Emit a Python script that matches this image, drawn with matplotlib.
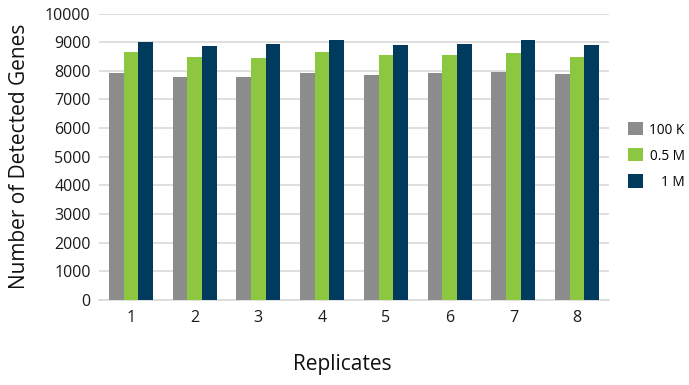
import matplotlib
matplotlib.use("Agg")
import matplotlib.pyplot as plt
import numpy as np

plt.rcParams['font.family'] = ['Open Sans', 'DejaVu Sans']

replicates = ['1', '2', '3', '4', '5', '6', '7', '8']
series_names = ['100 K', '0.5 M', '1 M']
genes_100k = [7920, 7770, 7770, 7920, 7850, 7920, 7950, 7880]
genes_05m = [8640, 8470, 8440, 8640, 8560, 8540, 8610, 8470]
genes_1m = [8990, 8880, 8920, 9080, 8910, 8950, 9080, 8910]
colors = ['#8c8c8c', '#8dc63f', '#003a5c']
yticks = [0, 1000, 2000, 3000, 4000, 5000, 6000, 7000, 8000, 9000, 10000]

fig = plt.figure(figsize=(6.89, 3.85), dpi=100)
ax = fig.add_axes([99/689, (385-300)/385, (609-99)/689, (300-13.5)/385])

x = np.arange(len(replicates))
w = 0.23
handles = []
for i, (vals, c, name) in enumerate(zip([genes_100k, genes_05m, genes_1m], colors, series_names)):
    h = ax.bar(x + (i-1)*w, vals, width=w, color=c, label=name, zorder=3)
    handles.append(h)

ax.set_xlim(-0.5, len(replicates)-0.5)
ax.set_ylim(0, 10000)
ax.set_yticks(yticks)
ax.set_xticks(x)
ax.set_xticklabels(replicates)
ax.yaxis.grid(True, color='#d9d9d9', linewidth=1.2, zorder=0)
for s in ['top', 'right', 'left']:
    ax.spines[s].set_visible(False)
ax.spines['bottom'].set_color('#d9d9d9')
ax.spines['bottom'].set_linewidth(1.2)
ax.tick_params(axis='both', length=0, labelsize=11.5, colors='#1a1a1a')
ax.tick_params(axis='x', pad=7)
ax.tick_params(axis='y', pad=6)

ax.set_ylabel('Number of Detected Genes', fontsize=15, color='#111111', labelpad=11)
ax.set_xlabel('Replicates', fontsize=15, color='#111111', labelpad=18)
ax.xaxis.set_label_coords(0.477, -0.19)

leg = fig.legend(handles=handles, labels=series_names, loc='center left',
                 bbox_to_anchor=(616/689, 1 - 156/385), frameon=False,
                 fontsize=9.8, handlelength=1.1, handleheight=1.1,
                 handletextpad=0.45, labelspacing=0.8)

fig.canvas.draw()
r = fig.canvas.get_renderer()
texts = leg.get_texts()
widths = [t.get_window_extent(r).width for t in texts]
mw = max(widths)
for t, wd in zip(texts, widths):
    t.set_position((mw - wd, 0))

fig.savefig('out.png', dpi=100)
